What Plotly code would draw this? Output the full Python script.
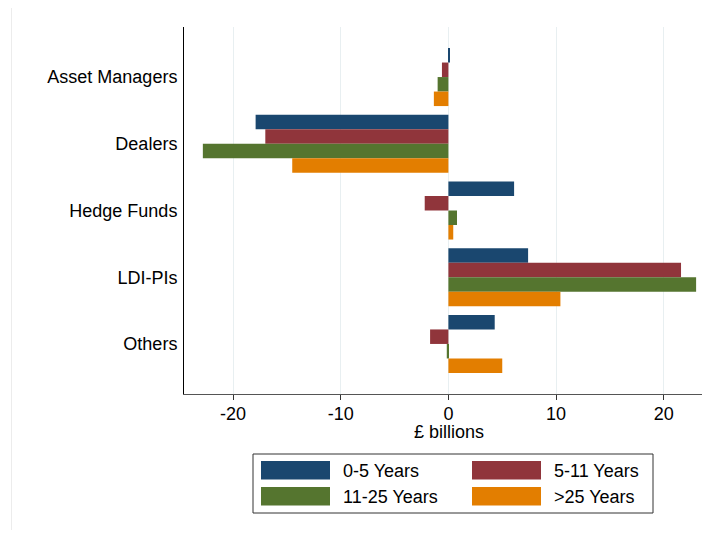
import plotly.graph_objects as go

categories = ["Asset Managers", "Dealers", "Hedge Funds", "LDI-PIs", "Others"]
series_names = ["0-5 Years", "5-11 Years", "11-25 Years", ">25 Years"]
v_0_5 = [0.15, -17.9, 6.1, 7.4, 4.3]
v_5_11 = [-0.6, -17.0, -2.2, 21.6, -1.7]
v_11_25 = [-1.0, -22.8, 0.8, 23.0, -0.15]
v_25p = [-1.35, -14.5, 0.45, 10.4, 5.0]
series_values = [v_0_5, v_5_11, v_11_25, v_25p]
colors = ["#1a476f", "#90353b", "#55752f", "#e37e00"]
x_ticks = [-20, -10, 0, 10, 20]

OFF = 8  # page body margin
W, H = 702, 522
ML, MR, MT = 184 - OFF, 0, 27 - OFF
MB = H - (394 - OFF)
PW = W - ML - MR
PH = H - MT - MB

def px(x):
    # x in screenshot pixels -> paper coords
    return (x - OFF - ML) / PW

def py(y):
    return (H - MB - (y - OFF)) / PH

FONT = "Arial, Liberation Sans, sans-serif"

fig = go.Figure()
for name, vals, c in zip(series_names, series_values, colors):
    fig.add_trace(go.Bar(
        y=categories, x=vals, name=name, orientation="h",
        marker=dict(color=c, line=dict(width=0)), showlegend=False,
    ))

fig.update_layout(
    width=W, height=H,
    margin=dict(l=ML, r=MR, t=MT, b=MB),
    paper_bgcolor="white", plot_bgcolor="white",
    barmode="group", bargap=0.13, bargroupgap=0,
    font=dict(family=FONT, size=18, color="#000000"),
    xaxis=dict(
        range=[-24.55, 24.29], tickvals=x_ticks, ticktext=[str(t) for t in x_ticks],
        showgrid=True, gridcolor="#e8eff1", gridwidth=1,
        zeroline=False, showline=True, linecolor="#555555", linewidth=1,
        ticks="outside", ticklen=5, tickcolor="#333333", ticklabelstandoff=-2,
    ),
    yaxis=dict(
        categoryorder="array", categoryarray=categories,
        range=[4.75, -0.75],
        showgrid=False, zeroline=False, showline=True, linecolor="#000000", linewidth=1,
        ticks="", ticklabelstandoff=2,
    ),
)

shapes = []
# faint outer frame line on the left
shapes.append(dict(type="line", xref="paper", yref="paper",
                   x0=px(11.5), x1=px(11.5), y0=py(OFF), y1=py(530),
                   line=dict(color="#ececec", width=1)))
# legend box
shapes.append(dict(type="rect", xref="paper", yref="paper",
                   x0=px(253), x1=px(653), y0=py(454), y1=py(513),
                   line=dict(color="#333333", width=1), fillcolor="white"))
annotations = [dict(xref="paper", yref="paper", x=px(448.7), y=py(432),
                    text="£ billions", showarrow=False, xanchor="center", yanchor="middle",
                    font=dict(size=18, family=FONT, color="#000000"))]
legend_pos = [(261, 461), (472, 461), (261, 487), (472, 487)]
for (lx, ly), name, c in zip(legend_pos, series_names, colors):
    shapes.append(dict(type="rect", xref="paper", yref="paper",
                       x0=px(lx), x1=px(lx + 69), y0=py(ly), y1=py(ly + 18.5),
                       line=dict(width=0), fillcolor=c))
    annotations.append(dict(xref="paper", yref="paper", x=px(lx + 80), y=py(ly + 9.5),
                            text=name, showarrow=False, xanchor="left", yanchor="middle",
                            font=dict(size=18, family=FONT, color="#000000")))

fig.update_layout(shapes=shapes, annotations=annotations)
fig.write_html("out.html")
